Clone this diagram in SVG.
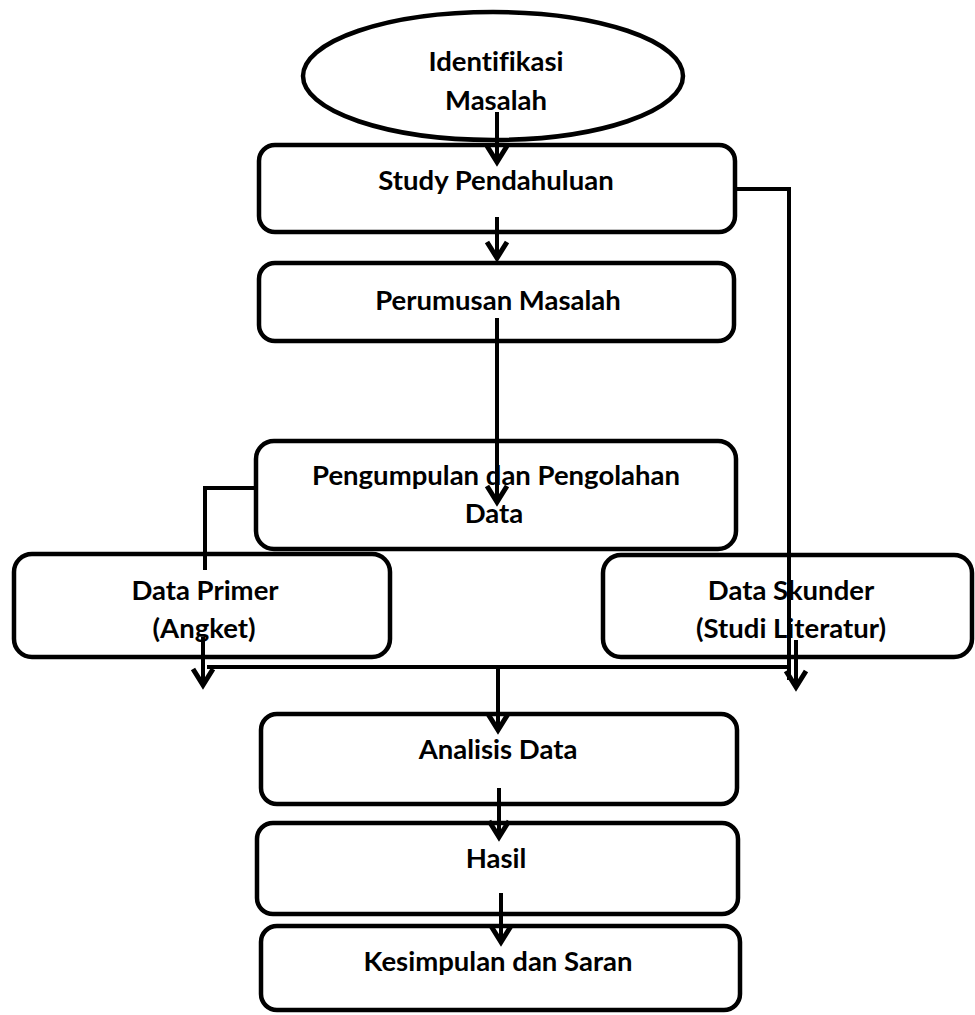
<svg xmlns="http://www.w3.org/2000/svg" width="975" height="1015" viewBox="0 0 975 1015">
<style>
.box{fill:#fff;stroke:#000;stroke-width:4.5}
.t{font-family:Lato,"Liberation Sans",sans-serif;font-weight:bold;font-size:27.5px;fill:#000;text-anchor:middle;font-variant-ligatures:none}
.c{fill:none;stroke:#000;stroke-width:4}
</style>
<defs>
<marker id="ah" markerUnits="userSpaceOnUse" markerWidth="30" markerHeight="30" viewBox="-20 -15 30 30" refX="-1" refY="0" orient="auto">
<path d="M-16,-10 L0,0 L-16,10" fill="none" stroke="#000" stroke-width="5"/>
</marker>
</defs>
<rect width="975" height="1015" fill="#fff"/>
<g id="study"><rect class="box" x="259" y="145" width="476" height="87" rx="16"/><text class="t" x="496" y="190">Study Pendahuluan</text></g>
<g id="identifikasi"><ellipse class="box" cx="493" cy="76" rx="190" ry="64"/><text class="t" x="496" y="71">Identifikasi</text><text class="t" x="496" y="110">Masalah</text></g>
<g id="perumusan"><rect class="box" x="259" y="263" width="475" height="78" rx="16"/><text class="t" x="498" y="310">Perumusan Masalah</text></g>
<g id="pengumpulan"><rect class="box" x="256" y="441" width="480" height="108" rx="18"/><text class="t" x="496" y="485">Pengumpulan dan Pengolahan</text><text class="t" x="494" y="523">Data</text></g>
<g id="primer"><rect class="box" x="14" y="554" width="376" height="103" rx="18"/><text class="t" x="205" y="600">Data Primer</text><text class="t" x="204" y="638">(Angket)</text></g>
<g id="skunder"><rect class="box" x="603" y="555" width="369" height="102" rx="18"/><text class="t" x="791" y="600">Data Skunder</text><text class="t" x="791" y="638">(Studi Literatur)</text></g>
<g id="analisis"><rect class="box" x="261" y="714" width="476" height="90" rx="16"/><text class="t" x="498" y="759">Analisis Data</text></g>
<g id="hasil"><rect class="box" x="257" y="823" width="481" height="91" rx="16"/><text class="t" x="496" y="868">Hasil</text></g>
<g id="kesimpulan"><rect class="box" x="261" y="926" width="479" height="84" rx="16"/><text class="t" x="498" y="971">Kesimpulan dan Saran</text></g>
<g id="connectors">
<line class="c" x1="497" y1="112" x2="497" y2="161" marker-end="url(#ah)"/>
<line class="c" x1="497" y1="217" x2="497" y2="257" marker-end="url(#ah)"/>
<line class="c" x1="497" y1="318" x2="497" y2="501" marker-end="url(#ah)"/>
<polyline class="c" points="256,488 205,488 205,570"/>
<line class="c" x1="203" y1="637" x2="203" y2="684" marker-end="url(#ah)"/>
<line class="c" x1="207" y1="667" x2="789" y2="667"/>
<polyline class="c" points="735,189 789,189 789,680"/>
<line class="c" x1="796" y1="640" x2="796" y2="686" marker-end="url(#ah)"/>
<line class="c" x1="498" y1="667" x2="498" y2="729" marker-end="url(#ah)"/>
<line class="c" x1="499" y1="788" x2="499" y2="836" marker-end="url(#ah)"/>
<line class="c" x1="501" y1="893" x2="501" y2="941" marker-end="url(#ah)"/>
</g>
</svg>
